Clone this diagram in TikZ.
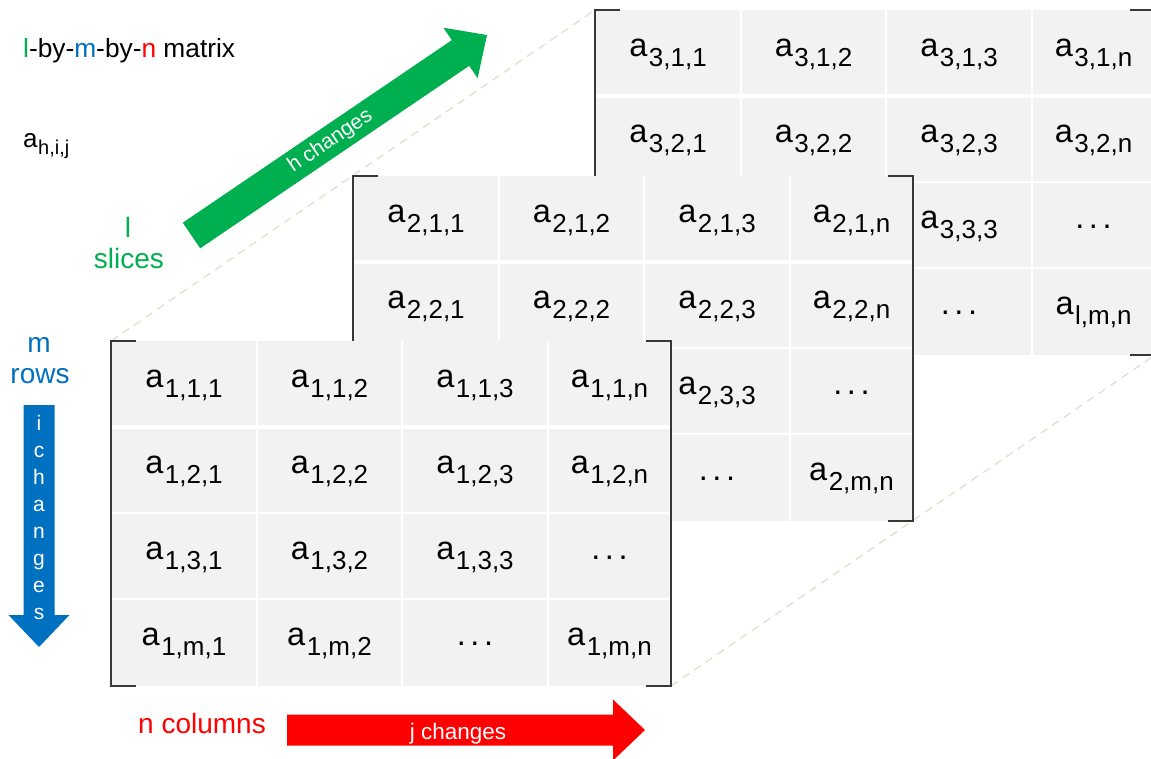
\documentclass[tikz,border=0pt]{standalone}
\usepackage{fontspec}
\setmainfont{Liberation Sans}
\usetikzlibrary{calc}
\definecolor{cgreen}{HTML}{00B050}
\definecolor{cblue}{HTML}{0070C0}
\definecolor{cred}{HTML}{FF0000}
\definecolor{cellgray}{HTML}{F2F2F2}
\definecolor{brk}{HTML}{383838}
\definecolor{persp}{HTML}{DDE4D2}
\newcommand\fs[1]{\fontsize{#1pt}{#1pt}\selectfont}
\newcommand\ent[1]{a\kern1.5pt\raisebox{-10pt}{\fs{26}#1}}
\newcommand\dotsx{.\kern4.5pt.\kern4.5pt.}
\tikzset{
  ctext/.style={anchor=base, inner sep=0pt, font=\fs{32.5}},
  brack/.style={draw=brk, line width=2pt},
  sepline/.style={draw=white, line width=1.5pt},
  septhick/.style={draw=white, line width=4.5pt},
  perspline/.style={draw=persp, line width=1.4pt, dash pattern=on 8pt off 6pt},
  lbl/.style={anchor=base, inner sep=0pt, font=\fs{28}},
  arrtext/.style={text=white, inner sep=0pt},
}
\newcommand\matbg{%
  \fill[cellgray] (0,0) rectangle (560,345);
  \draw[sepline] (146,0) -- (146,345) (291,0) -- (291,345) (437,0) -- (437,345)
                 (0,172) -- (560,172) (0,258) -- (560,258);
  \draw[septhick] (0,86) -- (560,86);
  \draw[brack] (25,0) -- (0,0) -- (0,345) -- (25,345);
  \draw[brack] (535,0) -- (560,0) -- (560,345) -- (535,345);
}
\begin{document}
\begin{tikzpicture}[x=1pt, y=-1pt]
\useasboundingbox (0,0) rectangle (1151,758);
\clip (0,0) rectangle (1151,758);
\fill[white] (0,0) rectangle (1151,758);

% perspective guide lines
\coordinate (m1nw) at (111,341);
\coordinate (m3nw) at (595,10);
\coordinate (m1se) at (671,686);
\coordinate (m3se) at (1155,355);
\draw[perspline] (m1nw) -- (m3nw);
\draw[perspline] (m1se) -- (m3se);

% slice 3 (back)
\begin{scope}[shift={(595,10)}]
  \matbg
  \foreach \x/\y/\t [count=\k] in {
    73/46/\ent{3,1,1}, 218.5/46/\ent{3,1,2}, 364/46/\ent{3,1,3}, 498.5/46/\ent{3,1,n},
    73/132/\ent{3,2,1}, 218.5/132/\ent{3,2,2}, 364/132/\ent{3,2,3}, 498.5/132/\ent{3,2,n},
    364/218/\ent{3,3,3}, 498.5/218/\dotsx,
    364/304/\dotsx, 498.5/304/\ent{l,m,n}}
    \node[ctext] (c3e\k) at (\x,\y) {\t};
\end{scope}

% slice 2 (middle)
\begin{scope}[shift={(353,176)}]
  \matbg
  \foreach \x/\y/\t [count=\k] in {
    73/46/\ent{2,1,1}, 218.5/46/\ent{2,1,2}, 364/46/\ent{2,1,3}, 498.5/46/\ent{2,1,n},
    73/132/\ent{2,2,1}, 218.5/132/\ent{2,2,2}, 364/132/\ent{2,2,3}, 498.5/132/\ent{2,2,n},
    364/218/\ent{2,3,3}, 498.5/218/\dotsx,
    364/304/\dotsx, 498.5/304/\ent{2,m,n}}
    \node[ctext] (c2e\k) at (\x,\y) {\t};
\end{scope}

% slice 1 (front)
\begin{scope}[shift={(111,341)}]
  \matbg
  \foreach \x/\y/\t [count=\k] in {
    73/46/\ent{1,1,1}, 218.5/46/\ent{1,1,2}, 364/46/\ent{1,1,3}, 498.5/46/\ent{1,1,n},
    73/132/\ent{1,2,1}, 218.5/132/\ent{1,2,2}, 364/132/\ent{1,2,3}, 498.5/132/\ent{1,2,n},
    73/218/\ent{1,3,1}, 218.5/218/\ent{1,3,2}, 364/218/\ent{1,3,3}, 498.5/218/\dotsx,
    73/304/\ent{1,m,1}, 218.5/304/\ent{1,m,2}, 364/304/\dotsx, 498.5/304/\ent{1,m,n}}
    \node[ctext] (c1e\k) at (\x,\y) {\t};
\end{scope}

% labels
\node[anchor=base west, inner sep=0pt, font=\fs{26.3}] (title) at (23,57)
  {{\color{cgreen}l}-by-{\color{cblue}m}-by-{\color{cred}n} matrix};
\node[anchor=base west, inner sep=0pt, font=\fs{26}] (elem) at (23,147)
  {a\kern0.5pt\raisebox{-7pt}{\fs{20}h,i,j}};
\node[lbl, text=cgreen] (lslice) at (128,237) {l};
\node[lbl, text=cgreen] (slices) at (129,268) {slices};
\node[lbl, text=cblue] (mrow) at (39,352) {m};
\node[lbl, text=cblue] (rows) at (40,383) {rows};
\node[lbl, anchor=base west, text=cred] (ncol) at (138,733) {n columns};

% green arrow (h changes)
\coordinate (gT) at (191.5,235.5);
\coordinate (gP) at (487,35);
\coordinate (gB) at ($(gP)!32pt!(gT)$);
\fill[cgreen] ($(gT)!15.5pt!90:(gP)$) -- ($(gB)!15.5pt!-90:(gT)$) -- ($(gB)!30.5pt!-90:(gT)$)
  -- (gP) -- ($(gB)!30.5pt!90:(gT)$) -- ($(gB)!15.5pt!90:(gT)$) -- ($(gT)!15.5pt!-90:(gP)$) -- cycle;
\node[arrtext, rotate=34.16, font=\fs{21}] (htext) at ($(gT)!0.47!(gP)$) {h changes};

% blue arrow (i changes)
\coordinate (bT) at (39,405);
\coordinate (bP) at (39,647);
\fill[cblue] (23.5,405) -- (54.5,405) -- (54.5,615) -- (69.5,615) -- (bP) -- (8.5,615) -- (23.5,615) -- cycle;
\foreach \ch [count=\k from 0] in {i,c,h,a,n,g,e,s}
  \node[arrtext, anchor=base, font=\fs{21}] (bl\k) at (39,430+27.1*\k) {\ch};

% red arrow (j changes)
\coordinate (rT) at (287,730);
\coordinate (rP) at (645,730);
\fill[cred] (287,714.5) -- (613,714.5) -- (613,699.5) -- (rP) -- (613,760.5) -- (613,745.5) -- (287,745.5) -- cycle;
\node[arrtext, anchor=base, font=\fs{22.5}] (jtext) at (458,739) {j changes};
\end{tikzpicture}
\end{document}
